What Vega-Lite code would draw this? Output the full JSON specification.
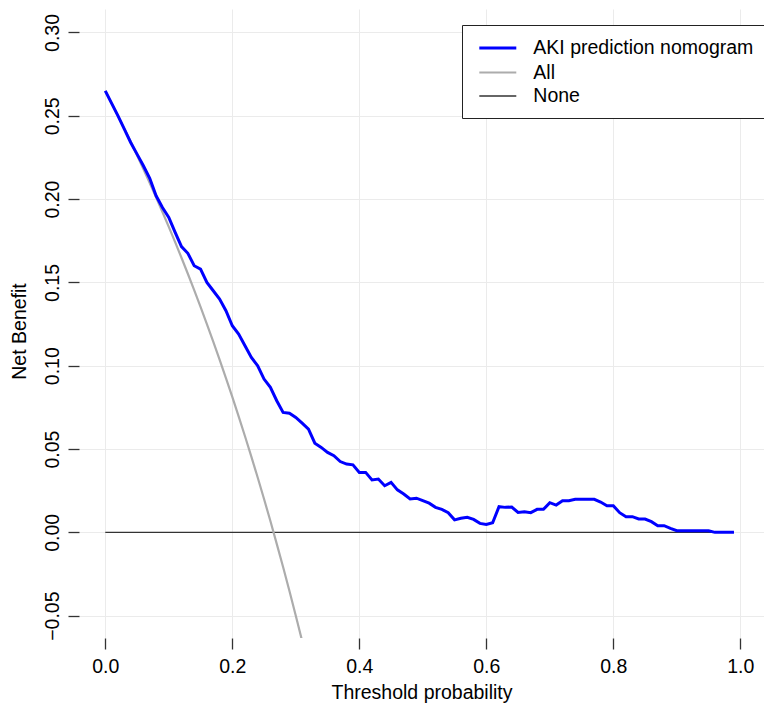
{
  "$schema": "https://vega.github.io/schema/vega-lite/v6.json",
  "width": 685,
  "height": 629,
  "autosize": "none",
  "padding": {"left": 79, "top": 9, "right": 0, "bottom": 65},
  "background": "white",
  "config": {
    "view": {"stroke": null},
    "font": "Liberation Sans",
    "axis": {
      "domain": false,
      "gridColor": "#ebebeb",
      "gridWidth": 1,
      "tickColor": "#333333",
      "tickWidth": 1.3,
      "tickSize": 11,
      "labelFont": "Liberation Sans",
      "labelFontSize": 19.5,
      "labelColor": "black",
      "titleFont": "Liberation Sans",
      "titleFontSize": 19.5,
      "titleFontWeight": "normal",
      "titleColor": "black"
    },
    "legend": {
      "labelFont": "Liberation Sans",
      "labelFontSize": 19.5,
      "labelColor": "black",
      "labelLimit": 0
    }
  },
  "datasets": {
    "curves": [
      {"series": "None", "threshold": 0.0, "net_benefit": 0},
      {"series": "None", "threshold": 0.99, "net_benefit": 0},
      {"series": "All", "threshold": 0.00, "net_benefit": 0.2650},
      {"series": "All", "threshold": 0.01, "net_benefit": 0.2576},
      {"series": "All", "threshold": 0.02, "net_benefit": 0.2500},
      {"series": "All", "threshold": 0.03, "net_benefit": 0.2423},
      {"series": "All", "threshold": 0.04, "net_benefit": 0.2344},
      {"series": "All", "threshold": 0.05, "net_benefit": 0.2263},
      {"series": "All", "threshold": 0.06, "net_benefit": 0.2181},
      {"series": "All", "threshold": 0.07, "net_benefit": 0.2097},
      {"series": "All", "threshold": 0.08, "net_benefit": 0.2011},
      {"series": "All", "threshold": 0.09, "net_benefit": 0.1923},
      {"series": "All", "threshold": 0.10, "net_benefit": 0.1833},
      {"series": "All", "threshold": 0.11, "net_benefit": 0.1742},
      {"series": "All", "threshold": 0.12, "net_benefit": 0.1648},
      {"series": "All", "threshold": 0.13, "net_benefit": 0.1552},
      {"series": "All", "threshold": 0.14, "net_benefit": 0.1454},
      {"series": "All", "threshold": 0.15, "net_benefit": 0.1353},
      {"series": "All", "threshold": 0.16, "net_benefit": 0.1250},
      {"series": "All", "threshold": 0.17, "net_benefit": 0.1145},
      {"series": "All", "threshold": 0.18, "net_benefit": 0.1037},
      {"series": "All", "threshold": 0.19, "net_benefit": 0.0926},
      {"series": "All", "threshold": 0.20, "net_benefit": 0.0813},
      {"series": "All", "threshold": 0.21, "net_benefit": 0.0696},
      {"series": "All", "threshold": 0.22, "net_benefit": 0.0577},
      {"series": "All", "threshold": 0.23, "net_benefit": 0.0455},
      {"series": "All", "threshold": 0.24, "net_benefit": 0.0329},
      {"series": "All", "threshold": 0.25, "net_benefit": 0.0200},
      {"series": "All", "threshold": 0.26, "net_benefit": 0.0068},
      {"series": "All", "threshold": 0.27, "net_benefit": -0.0069},
      {"series": "All", "threshold": 0.28, "net_benefit": -0.0208},
      {"series": "All", "threshold": 0.29, "net_benefit": -0.0352},
      {"series": "All", "threshold": 0.30, "net_benefit": -0.0500},
      {"series": "All", "threshold": 0.31, "net_benefit": -0.0652},
      {"series": "All", "threshold": 0.32, "net_benefit": -0.0809},
      {"series": "AKI prediction nomogram", "threshold": 0.00, "net_benefit": 0.265},
      {"series": "AKI prediction nomogram", "threshold": 0.01, "net_benefit": 0.2575},
      {"series": "AKI prediction nomogram", "threshold": 0.02, "net_benefit": 0.250},
      {"series": "AKI prediction nomogram", "threshold": 0.03, "net_benefit": 0.242},
      {"series": "AKI prediction nomogram", "threshold": 0.04, "net_benefit": 0.234},
      {"series": "AKI prediction nomogram", "threshold": 0.05, "net_benefit": 0.227},
      {"series": "AKI prediction nomogram", "threshold": 0.06, "net_benefit": 0.220},
      {"series": "AKI prediction nomogram", "threshold": 0.07, "net_benefit": 0.2125},
      {"series": "AKI prediction nomogram", "threshold": 0.08, "net_benefit": 0.202},
      {"series": "AKI prediction nomogram", "threshold": 0.09, "net_benefit": 0.195},
      {"series": "AKI prediction nomogram", "threshold": 0.10, "net_benefit": 0.189},
      {"series": "AKI prediction nomogram", "threshold": 0.11, "net_benefit": 0.180},
      {"series": "AKI prediction nomogram", "threshold": 0.12, "net_benefit": 0.1715},
      {"series": "AKI prediction nomogram", "threshold": 0.13, "net_benefit": 0.1675},
      {"series": "AKI prediction nomogram", "threshold": 0.14, "net_benefit": 0.160},
      {"series": "AKI prediction nomogram", "threshold": 0.15, "net_benefit": 0.158},
      {"series": "AKI prediction nomogram", "threshold": 0.16, "net_benefit": 0.150},
      {"series": "AKI prediction nomogram", "threshold": 0.17, "net_benefit": 0.145},
      {"series": "AKI prediction nomogram", "threshold": 0.18, "net_benefit": 0.140},
      {"series": "AKI prediction nomogram", "threshold": 0.19, "net_benefit": 0.133},
      {"series": "AKI prediction nomogram", "threshold": 0.20, "net_benefit": 0.124},
      {"series": "AKI prediction nomogram", "threshold": 0.21, "net_benefit": 0.119},
      {"series": "AKI prediction nomogram", "threshold": 0.22, "net_benefit": 0.112},
      {"series": "AKI prediction nomogram", "threshold": 0.23, "net_benefit": 0.105},
      {"series": "AKI prediction nomogram", "threshold": 0.24, "net_benefit": 0.100},
      {"series": "AKI prediction nomogram", "threshold": 0.25, "net_benefit": 0.092},
      {"series": "AKI prediction nomogram", "threshold": 0.26, "net_benefit": 0.087},
      {"series": "AKI prediction nomogram", "threshold": 0.27, "net_benefit": 0.079},
      {"series": "AKI prediction nomogram", "threshold": 0.28, "net_benefit": 0.072},
      {"series": "AKI prediction nomogram", "threshold": 0.29, "net_benefit": 0.0715},
      {"series": "AKI prediction nomogram", "threshold": 0.30, "net_benefit": 0.069},
      {"series": "AKI prediction nomogram", "threshold": 0.31, "net_benefit": 0.0655},
      {"series": "AKI prediction nomogram", "threshold": 0.32, "net_benefit": 0.062},
      {"series": "AKI prediction nomogram", "threshold": 0.33, "net_benefit": 0.0535},
      {"series": "AKI prediction nomogram", "threshold": 0.34, "net_benefit": 0.051},
      {"series": "AKI prediction nomogram", "threshold": 0.35, "net_benefit": 0.048},
      {"series": "AKI prediction nomogram", "threshold": 0.36, "net_benefit": 0.046},
      {"series": "AKI prediction nomogram", "threshold": 0.37, "net_benefit": 0.0425},
      {"series": "AKI prediction nomogram", "threshold": 0.38, "net_benefit": 0.041},
      {"series": "AKI prediction nomogram", "threshold": 0.39, "net_benefit": 0.0405},
      {"series": "AKI prediction nomogram", "threshold": 0.40, "net_benefit": 0.036},
      {"series": "AKI prediction nomogram", "threshold": 0.41, "net_benefit": 0.036},
      {"series": "AKI prediction nomogram", "threshold": 0.42, "net_benefit": 0.0315},
      {"series": "AKI prediction nomogram", "threshold": 0.43, "net_benefit": 0.032},
      {"series": "AKI prediction nomogram", "threshold": 0.44, "net_benefit": 0.028},
      {"series": "AKI prediction nomogram", "threshold": 0.45, "net_benefit": 0.030},
      {"series": "AKI prediction nomogram", "threshold": 0.46, "net_benefit": 0.0255},
      {"series": "AKI prediction nomogram", "threshold": 0.47, "net_benefit": 0.023},
      {"series": "AKI prediction nomogram", "threshold": 0.48, "net_benefit": 0.020},
      {"series": "AKI prediction nomogram", "threshold": 0.49, "net_benefit": 0.0205},
      {"series": "AKI prediction nomogram", "threshold": 0.50, "net_benefit": 0.019},
      {"series": "AKI prediction nomogram", "threshold": 0.51, "net_benefit": 0.0175},
      {"series": "AKI prediction nomogram", "threshold": 0.52, "net_benefit": 0.015},
      {"series": "AKI prediction nomogram", "threshold": 0.53, "net_benefit": 0.0138},
      {"series": "AKI prediction nomogram", "threshold": 0.54, "net_benefit": 0.0118},
      {"series": "AKI prediction nomogram", "threshold": 0.55, "net_benefit": 0.0075},
      {"series": "AKI prediction nomogram", "threshold": 0.56, "net_benefit": 0.0085},
      {"series": "AKI prediction nomogram", "threshold": 0.57, "net_benefit": 0.009},
      {"series": "AKI prediction nomogram", "threshold": 0.58, "net_benefit": 0.0078},
      {"series": "AKI prediction nomogram", "threshold": 0.59, "net_benefit": 0.0054},
      {"series": "AKI prediction nomogram", "threshold": 0.60, "net_benefit": 0.0048},
      {"series": "AKI prediction nomogram", "threshold": 0.61, "net_benefit": 0.0058},
      {"series": "AKI prediction nomogram", "threshold": 0.62, "net_benefit": 0.0154},
      {"series": "AKI prediction nomogram", "threshold": 0.63, "net_benefit": 0.015},
      {"series": "AKI prediction nomogram", "threshold": 0.64, "net_benefit": 0.0152},
      {"series": "AKI prediction nomogram", "threshold": 0.65, "net_benefit": 0.012},
      {"series": "AKI prediction nomogram", "threshold": 0.66, "net_benefit": 0.0124},
      {"series": "AKI prediction nomogram", "threshold": 0.67, "net_benefit": 0.0118},
      {"series": "AKI prediction nomogram", "threshold": 0.68, "net_benefit": 0.0138},
      {"series": "AKI prediction nomogram", "threshold": 0.69, "net_benefit": 0.0138},
      {"series": "AKI prediction nomogram", "threshold": 0.70, "net_benefit": 0.0178},
      {"series": "AKI prediction nomogram", "threshold": 0.71, "net_benefit": 0.0164},
      {"series": "AKI prediction nomogram", "threshold": 0.72, "net_benefit": 0.019},
      {"series": "AKI prediction nomogram", "threshold": 0.73, "net_benefit": 0.019},
      {"series": "AKI prediction nomogram", "threshold": 0.74, "net_benefit": 0.0198},
      {"series": "AKI prediction nomogram", "threshold": 0.75, "net_benefit": 0.0198},
      {"series": "AKI prediction nomogram", "threshold": 0.76, "net_benefit": 0.0198},
      {"series": "AKI prediction nomogram", "threshold": 0.77, "net_benefit": 0.0198},
      {"series": "AKI prediction nomogram", "threshold": 0.78, "net_benefit": 0.0182},
      {"series": "AKI prediction nomogram", "threshold": 0.79, "net_benefit": 0.016},
      {"series": "AKI prediction nomogram", "threshold": 0.80, "net_benefit": 0.016},
      {"series": "AKI prediction nomogram", "threshold": 0.81, "net_benefit": 0.0118},
      {"series": "AKI prediction nomogram", "threshold": 0.82, "net_benefit": 0.0094},
      {"series": "AKI prediction nomogram", "threshold": 0.83, "net_benefit": 0.0094},
      {"series": "AKI prediction nomogram", "threshold": 0.84, "net_benefit": 0.008},
      {"series": "AKI prediction nomogram", "threshold": 0.85, "net_benefit": 0.008},
      {"series": "AKI prediction nomogram", "threshold": 0.86, "net_benefit": 0.0064},
      {"series": "AKI prediction nomogram", "threshold": 0.87, "net_benefit": 0.004},
      {"series": "AKI prediction nomogram", "threshold": 0.88, "net_benefit": 0.004},
      {"series": "AKI prediction nomogram", "threshold": 0.89, "net_benefit": 0.0024},
      {"series": "AKI prediction nomogram", "threshold": 0.90, "net_benefit": 0.001},
      {"series": "AKI prediction nomogram", "threshold": 0.91, "net_benefit": 0.001},
      {"series": "AKI prediction nomogram", "threshold": 0.92, "net_benefit": 0.001},
      {"series": "AKI prediction nomogram", "threshold": 0.93, "net_benefit": 0.001},
      {"series": "AKI prediction nomogram", "threshold": 0.94, "net_benefit": 0.001},
      {"series": "AKI prediction nomogram", "threshold": 0.95, "net_benefit": 0.001},
      {"series": "AKI prediction nomogram", "threshold": 0.96, "net_benefit": 0.0},
      {"series": "AKI prediction nomogram", "threshold": 0.97, "net_benefit": 0.0},
      {"series": "AKI prediction nomogram", "threshold": 0.98, "net_benefit": 0.0},
      {"series": "AKI prediction nomogram", "threshold": 0.99, "net_benefit": 0.0}
    ]
  },
  "data": {"name": "curves"},
  "encoding": {
    "x": {
      "field": "threshold",
      "type": "quantitative",
      "scale": {"domain": [-0.0414, 1.0373], "nice": false, "zero": false},
      "axis": {
        "title": "Threshold probability",
        "values": [0, 0.2, 0.4, 0.6, 0.8, 1.0],
        "format": ".1f",
        "labelPadding": 8,
        "titlePadding": 8,
        "labelFlush": false
      }
    },
    "y": {
      "field": "net_benefit",
      "type": "quantitative",
      "scale": {"domain": [-0.0634, 0.3141], "nice": false, "zero": false},
      "axis": {
        "title": "Net Benefit",
        "values": [-0.05, 0, 0.05, 0.1, 0.15, 0.2, 0.25, 0.3],
        "format": ".2f",
        "labelAngle": -90,
        "labelAlign": "center",
        "labelBaseline": "bottom",
        "labelPadding": 6,
        "titlePadding": 13,
        "titleY": 322,
        "labelFlush": false
      }
    },
    "color": {
      "field": "series",
      "type": "nominal",
      "scale": {
        "domain": ["AKI prediction nomogram", "All", "None"],
        "range": ["#0000ff", "#acacac", "#333333"]
      },
      "legend": {
        "title": null,
        "orient": "none",
        "legendX": 383,
        "legendY": 16,
        "symbolType": "M-2,0H2",
        "symbolSize": 342,
        "symbolOffset": 12.8,
        "labelOffset": 24.5,
        "rowPadding": 4,
        "padding": 12,
        "strokeColor": "#222222",
        "fillColor": "white"
      }
    },
    "strokeWidth": {
      "field": "series",
      "type": "nominal",
      "scale": {
        "domain": ["AKI prediction nomogram", "All", "None"],
        "range": [3, 1.4, 1.4]
      },
      "legend": {
        "title": null,
        "orient": "none",
        "legendX": 383,
        "legendY": 16,
        "symbolType": "M-2,0H2",
        "symbolSize": 342,
        "symbolOffset": 12.8,
        "labelOffset": 24.5,
        "rowPadding": 4,
        "padding": 12,
        "strokeColor": "#222222",
        "fillColor": "white"
      }
    }
  },
  "layer": [
    {
      "transform": [{"filter": "datum.series == 'None'"}],
      "mark": {"type": "line", "clip": true}
    },
    {
      "transform": [{"filter": "datum.series == 'All'"}],
      "mark": {"type": "line", "clip": true}
    },
    {
      "transform": [{"filter": "datum.series == 'AKI prediction nomogram'"}],
      "mark": {"type": "line", "clip": true}
    },
    {
      "data": {"values": [{}]},
      "mark": {"type": "rule", "color": "#333333", "strokeWidth": 1.3},
      "encoding": {
        "x": {"datum": 0},
        "x2": {"datum": 1},
        "y": {"datum": -0.0634},
        "color": null,
        "strokeWidth": null
      }
    },
    {
      "data": {"values": [{}]},
      "mark": {"type": "rule", "color": "#333333", "strokeWidth": 1.3},
      "encoding": {
        "x": {"datum": -0.0414},
        "y": {"datum": -0.05},
        "y2": {"datum": 0.3},
        "color": null,
        "strokeWidth": null
      }
    }
  ]
}
